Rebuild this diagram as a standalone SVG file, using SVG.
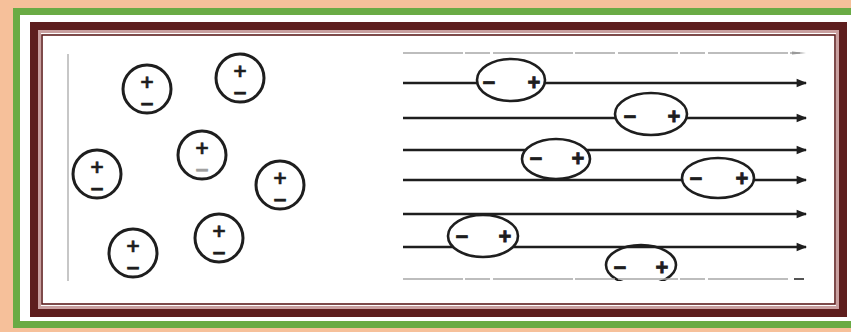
<svg xmlns="http://www.w3.org/2000/svg" width="851" height="332" viewBox="0 0 851 332">
<style>
.dip{fill:#fff;stroke:#1e1e1e;stroke-width:3}
.ell{fill:#fff;stroke:#1e1e1e;stroke-width:2.6}
.sg{font-family:"Liberation Sans",Arial,sans-serif;font-weight:bold;fill:#1e1e1e;stroke:#1e1e1e;stroke-width:0.8;text-anchor:middle}
.big{font-family:"DejaVu Sans",sans-serif;font-size:18px;stroke-width:0.6}
.sm{font-size:22px}
.fl{stroke:#1e1e1e;stroke-width:2.6;fill:none}
.fa{stroke:#a8a8a8;stroke-width:1.6;fill:none;stroke-dasharray:60 2 25 3 80 2 40 3}
</style>
<defs>
<marker id="ah" viewBox="0 0 10 10" refX="9" refY="5" markerWidth="6" markerHeight="4" orient="auto" markerUnits="strokeWidth">
<path d="M0,1 L10,5 L0,9 Z" fill="#1e1e1e"/>
</marker>
<clipPath id="cutF"><rect x="0" y="0" width="851" height="281"/></clipPath>
</defs>
<rect x="0" y="0" width="851" height="332" fill="#f6c09a"/>
<rect x="16.5" y="11.5" width="845" height="313" fill="#fff" stroke="#6aab45" stroke-width="7"/>
<rect x="34" y="26" width="809" height="287" fill="#fff" stroke="#5e1e1e" stroke-width="8"/>
<rect x="39.5" y="31.5" width="798" height="276" fill="none" stroke="#c9a0a0" stroke-width="3"/>
<rect x="42" y="35" width="793" height="269" fill="#fff" stroke="#5e1e1e" stroke-width="1.6"/>
<line x1="68" y1="54" x2="68" y2="281" stroke="#b5b5b5" stroke-width="1.5"/>
<g id="dipole1"><circle class="dip" cx="147" cy="89" r="24"/><text class="sg big" x="147" y="87.5">+<tspan x="147" dy="22">−</tspan></text></g>
<g id="dipole2"><circle class="dip" cx="240" cy="78" r="24"/><text class="sg big" x="240" y="76.5">+<tspan x="240" dy="22">−</tspan></text></g>
<g id="dipole3"><circle class="dip" cx="202" cy="155" r="24"/><text class="sg big" x="202" y="153.5">+<tspan x="202" dy="22" style="fill:#a0a0a0;stroke:#a0a0a0">−</tspan></text></g>
<g id="dipole4"><circle class="dip" cx="97" cy="174" r="24"/><text class="sg big" x="97" y="172.5">+<tspan x="97" dy="22">−</tspan></text></g>
<g id="dipole5"><circle class="dip" cx="280" cy="185" r="24"/><text class="sg big" x="280" y="183.5">+<tspan x="280" dy="22">−</tspan></text></g>
<g id="dipole6"><circle class="dip" cx="219" cy="238" r="24"/><text class="sg big" x="219" y="236.5">+<tspan x="219" dy="22">−</tspan></text></g>
<g id="dipole7"><circle class="dip" cx="133" cy="253" r="24"/><text class="sg big" x="133" y="251.5">+<tspan x="133" dy="22">−</tspan></text></g>
<g id="dipoleF" clip-path="url(#cutF)"><ellipse class="ell" cx="641" cy="265" rx="35" ry="20"/><text class="sg sm" x="620" y="275">−<tspan x="662">+</tspan></text></g>
<g id="connectors">
<line class="fa" x1="403" y1="53" x2="800" y2="53"/>
<path d="M792,51.5 L806,53 L792,54.5 Z" fill="#9a9a9a"/>
<line class="fl" x1="403" y1="83" x2="806" y2="83" marker-end="url(#ah)"/>
<line class="fl" x1="403" y1="118" x2="806" y2="118" marker-end="url(#ah)"/>
<line class="fl" x1="403" y1="150" x2="806" y2="150" marker-end="url(#ah)"/>
<line class="fl" x1="403" y1="180" x2="806" y2="180" marker-end="url(#ah)"/>
<line class="fl" x1="403" y1="214" x2="806" y2="214" marker-end="url(#ah)"/>
<line class="fl" x1="403" y1="247" x2="806" y2="247" marker-end="url(#ah)"/>
<line class="fa" x1="403" y1="279" x2="790" y2="279"/>
<line x1="794" y1="279" x2="804" y2="279" stroke="#555" stroke-width="2"/>
</g>
<g id="dipoleA"><ellipse class="ell" cx="511" cy="80" rx="34" ry="21"/><text class="sg sm" x="489" y="90">−<tspan x="534">+</tspan></text></g>
<g id="dipoleB"><ellipse class="ell" cx="651" cy="114" rx="36" ry="21"/><text class="sg sm" x="630" y="124">−<tspan x="674">+</tspan></text></g>
<g id="dipoleC"><ellipse class="ell" cx="556" cy="159" rx="34" ry="20"/><text class="sg sm" x="536" y="166">−<tspan x="578">+</tspan></text></g>
<g id="dipoleD"><ellipse class="ell" cx="718" cy="178" rx="36" ry="20"/><text class="sg sm" x="696" y="186">−<tspan x="742">+</tspan></text></g>
<g id="dipoleE"><ellipse class="ell" cx="483" cy="236" rx="35" ry="21"/><text class="sg sm" x="462" y="244">−<tspan x="505">+</tspan></text></g>
</svg>
